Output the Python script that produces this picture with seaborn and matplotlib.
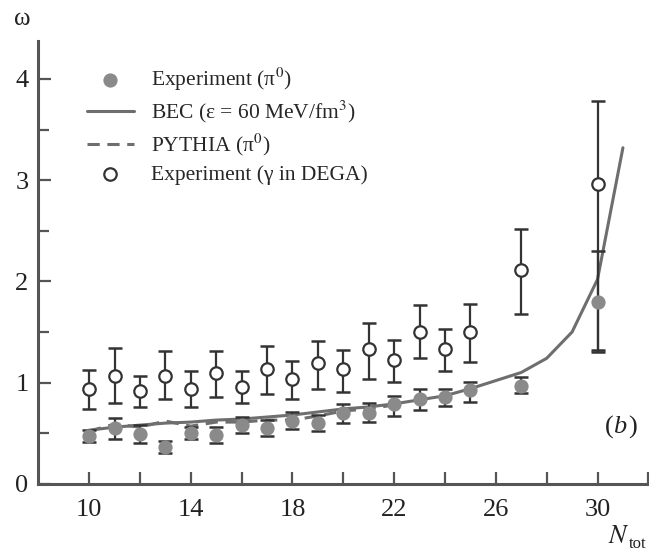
import numpy as np
import pandas as pd
import matplotlib
matplotlib.use("Agg")
import matplotlib.pyplot as plt
import seaborn as sns

# multiplicity points
n_tot = [10, 11, 12, 13, 14, 15, 16, 17, 18, 19, 20, 21, 22, 23, 24, 25, 27, 30]

# Experiment (pi0), filled grey
pi0_val = [0.47, 0.55, 0.49, 0.36, 0.50, 0.48, 0.58, 0.55, 0.62, 0.60, 0.70, 0.70, 0.79, 0.84, 0.86, 0.93, 0.97, 1.80]
pi0_hi = [0.53, 0.65, 0.58, 0.42, 0.56, 0.56, 0.66, 0.63, 0.71, 0.68, 0.79, 0.80, 0.87, 0.94, 0.94, 1.01, 1.06, 2.30]
pi0_lo = [0.41, 0.44, 0.40, 0.30, 0.44, 0.40, 0.50, 0.47, 0.54, 0.52, 0.60, 0.61, 0.67, 0.73, 0.77, 0.81, 0.90, 1.30]

# Experiment (gamma in DEGA), open circles
gam_val = [0.94, 1.07, 0.92, 1.07, 0.94, 1.09, 0.96, 1.13, 1.04, 1.19, 1.13, 1.33, 1.22, 1.50, 1.33, 1.50, 2.11, 2.96]
gam_hi = [1.12, 1.34, 1.07, 1.31, 1.11, 1.31, 1.11, 1.36, 1.21, 1.41, 1.32, 1.59, 1.42, 1.77, 1.53, 1.78, 2.52, 3.78]
gam_lo = [0.74, 0.80, 0.76, 0.84, 0.76, 0.86, 0.80, 0.89, 0.84, 0.94, 0.91, 1.04, 1.01, 1.24, 1.11, 1.20, 1.68, 1.32]

# BEC model curve
bec_n = [10, 11, 12, 13, 14, 15, 16, 17, 18, 19, 20, 21, 22, 23, 24, 25, 26, 27, 28, 29, 30, 31]
bec_w = [0.53, 0.56, 0.58, 0.60, 0.61, 0.63, 0.64, 0.66, 0.68, 0.71, 0.74, 0.76, 0.79, 0.83, 0.87, 0.94, 1.02, 1.10, 1.24, 1.50, 2.02, 3.32]

# PYTHIA curve
pyt_n = [10, 11, 12, 13, 14, 15, 16, 17, 18, 19, 20, 21, 22]
pyt_w = [0.52, 0.59, 0.56, 0.62, 0.57, 0.61, 0.61, 0.63, 0.63, 0.67, 0.72, 0.74, 0.78]

sns.set_style("ticks")
plt.rcParams['font.family'] = ['Liberation Serif', 'DejaVu Serif']
plt.rcParams['mathtext.fontset'] = 'stix'

fig = plt.figure(figsize=(6.49, 5.6), dpi=100, facecolor="white")
ax = fig.add_axes([0.059, 0.136, 0.94, 0.79])

grey = "#8a8a8a"
dark = "#333333"

df_pi0 = pd.DataFrame({"N": n_tot, "w": pi0_val})
df_gam = pd.DataFrame({"N": n_tot, "w": gam_val})

sns.lineplot(x=bec_n, y=bec_w, ax=ax, color="#6e6e6e", lw=2.2, label="BEC (ε = 60 MeV/fm$^3$)")
sns.lineplot(x=pyt_n, y=pyt_w, ax=ax, color="#6e6e6e", lw=2.2, linestyle=(0, (4, 2.5)), label="PYTHIA (π$^0$)")

ax.errorbar(n_tot, pi0_val,
            yerr=[np.array(pi0_val) - np.array(pi0_lo), np.array(pi0_hi) - np.array(pi0_val)],
            fmt="none", ecolor=dark, elinewidth=1.6, capsize=5, capthick=1.8, zorder=3)
ax.errorbar(n_tot, gam_val,
            yerr=[np.array(gam_val) - np.array(gam_lo), np.array(gam_hi) - np.array(gam_val)],
            fmt="none", ecolor=dark, elinewidth=1.6, capsize=5, capthick=1.8, zorder=3)

sns.scatterplot(data=df_pi0, x="N", y="w", ax=ax, color=grey, s=105, marker="o",
                edgecolor=grey, linewidth=0, zorder=4, label="Experiment (π$^0$)")
sns.scatterplot(data=df_gam, x="N", y="w", ax=ax, color="white", s=80, marker="o",
                edgecolor=dark, linewidth=1.6, zorder=5, label="Experiment (γ in DEGA)")

ax.set_xlim(8, 32)
ax.set_ylim(0, 4.37)
ax.set_xticks([10, 14, 18, 22, 26, 30])
ax.set_xticks([12, 16, 20, 24, 28, 32], minor=True)
ax.set_yticks([0, 1, 2, 3, 4])
ax.set_yticks([0.5, 1.5, 2.5, 3.5], minor=True)
ax.tick_params(which="both", direction="in", length=9, width=1.6, color="#555555",
               labelsize=19, labelcolor="#222222")
ax.tick_params(axis="x", pad=11)
ax.tick_params(axis="y", pad=7)
ax.tick_params(axis="y", which="minor", length=8)
sns.despine(ax=ax)
for sp in ["left", "bottom"]:
    ax.spines[sp].set_linewidth(2.2)
    ax.spines[sp].set_color("#555555")
ax.set_xlabel("")
ax.set_ylabel("")

h, l = ax.get_legend_handles_labels()
order = [2, 0, 1, 3]
ax.legend([h[i] for i in order], [l[i] for i in order], loc="upper left",
          bbox_to_anchor=(0.065, 0.965), frameon=False, fontsize=15.5,
          handlelength=2.2, handletextpad=0.8, labelspacing=0.3, borderaxespad=0)

fig.text(0.022, 0.955, "ω", fontsize=18, color="#222222")
fig.text(0.937, 0.03, "$N$", fontsize=19, color="#222222")
fig.text(0.969, 0.022, "tot", fontsize=12, color="#222222")
ax.text(30.3, 0.5, "(", fontsize=19, color="#222222")
ax.text(30.62, 0.5, "b", fontsize=19, style="italic", color="#222222")
ax.text(31.2, 0.5, ")", fontsize=19, color="#222222")

fig.savefig("out.png", dpi=100)
